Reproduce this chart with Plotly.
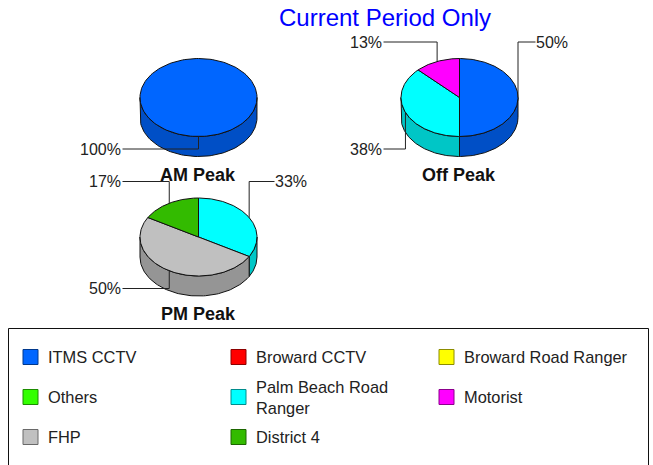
import numpy as np
import plotly.graph_objects as go

# ---- data ----
title = "Current Period Only"
series_names = ["ITMS CCTV", "Broward CCTV", "Broward Road Ranger", "Others",
                "Palm Beach Road<br>Ranger", "Motorist", "FHP", "District 4"]
series_colors = ["#0066FF", "#FF0000", "#FFFF00", "#33FF00",
                 "#00FFFF", "#FF00FF", "#C0C0C0", "#33BB00"]
am_names = ["ITMS CCTV"]
am_values = [1]
off_names = ["ITMS CCTV", "Palm Beach Road<br>Ranger", "Motorist"]
off_values = [4, 3, 1]
pm_names = ["Palm Beach Road<br>Ranger", "FHP", "District 4"]
pm_values = [2, 3, 1]

# ---- layout constants ----
W, H = 653, 465
RX, RY, DEPTH = 58.5, 39.0, 20.0
LINE = "#111111"
color_of = dict(zip(series_names, series_colors))


def darken(hex_color, f):
    r, g, b = (int(hex_color[i:i + 2], 16) for i in (1, 3, 5))
    return f"rgb({int(r * f)},{int(g * f)},{int(b * f)})"


fig = go.Figure()
annotations = []


def poly(xs, ys, fill=None, width=1.0, color=LINE):
    fig.add_trace(go.Scatter(
        x=xs, y=ys, mode="lines", line=dict(color=color, width=width),
        fill="toself" if fill else "none", fillcolor=fill,
        hoverinfo="skip", showlegend=False))


def text(x, y, s, size=16, color="#222222", anchor="center", bold=False):
    annotations.append(dict(
        x=x, y=y, text=f"<b>{s}</b>" if bold else s, showarrow=False,
        xanchor=anchor, yanchor="middle", xref="x", yref="y",
        xshift=0, yshift=0, align="left",
        font=dict(family="Liberation Sans, Arial", size=size, color=color)))


def pie3d(cx, cy, names, values, label):
    total = sum(values)
    edges = np.cumsum([0] + list(values)) / total * 2 * np.pi

    def px(t):
        return cx + RX * np.sin(t)

    def py(t):
        return cy - RY * np.cos(t)

    # side walls: only the front half (90..270 degrees) is visible
    for i, name in enumerate(names):
        a0 = max(edges[i], np.pi / 2)
        a1 = min(edges[i + 1], 3 * np.pi / 2)
        if a1 <= a0:
            continue
        t = np.linspace(a0, a1, 80)
        xs = np.r_[px(t), px(t[::-1]), px(t[0])]
        ys = np.r_[py(t), py(t[::-1]) + DEPTH, py(t[0])]
        poly(xs, ys, fill=darken(color_of[name], 0.78))

    # top faces
    for i, name in enumerate(names):
        t = np.linspace(edges[i], edges[i + 1], 160)
        if len(values) == 1:
            xs, ys = px(t), py(t)
        else:
            xs = np.r_[cx, px(t), cx]
            ys = np.r_[cy, py(t), cy]
        poly(xs, ys, fill=color_of[name])

    # leader lines + percentage labels
    for i, name in enumerate(names):
        mid = (edges[i] + edges[i + 1]) / 2
        mx, my = px(mid), py(mid)
        pct = int(values[i] / total * 100 + 0.5)
        lower = np.cos(mid) < -1e-9
        ey = cy + 51.5 if lower else cy - 55.5
        right = np.sin(mid) > 1e-9
        ex = cx + 76 if right else cx - 76
        poly([mx, mx, ex], [my, ey, ey], width=1.0, color="#222222")
        if right:
            text(ex - 2, ey, f"{pct}%", anchor="left")
        else:
            text(ex + 0.5, ey, f"{pct}%", anchor="right")

    text(cx - 0.5, cy + 77, label, size=18, color="#111111", bold=True)


pie3d(198.5, 97.5, am_names, am_values, "AM Peak")
pie3d(459.5, 97.5, off_names, off_values, "Off Peak")
pie3d(198.5, 237.0, pm_names, pm_values, "PM Peak")

text(385, 17.5, title, size=24, color="#0000FF")

# legend
col_x = [30.5, 238.5, 446.5]
row_y = [357, 397, 437]
for k, (name, col) in enumerate(zip(series_names, series_colors)):
    x, y = col_x[k % 3], row_y[k // 3]
    fig.add_trace(go.Scatter(
        x=[x], y=[y], mode="markers",
        marker=dict(symbol="square", size=15, color=col,
                    line=dict(color=darken(col, 0.55), width=1)),
        hoverinfo="skip", showlegend=False))
    text(x + 15.5, y, name, size=16.4, anchor="left")

fig.update_layout(
    width=W, height=H, margin=dict(l=0, r=0, t=0, b=0, pad=0),
    paper_bgcolor="white", plot_bgcolor="white", showlegend=False,
    xaxis=dict(range=[0, W], visible=False, fixedrange=True),
    yaxis=dict(range=[H, 0], visible=False, fixedrange=True),
    annotations=annotations,
    shapes=[dict(type="rect", xref="x", yref="y", x0=8.5, x1=648.5, y0=328.5, y1=475,
                 line=dict(color="#111111", width=1), fillcolor="rgba(0,0,0,0)", layer="below")],
)
fig.write_html("out.html", config={"displayModeBar": False},
               post_script="document.body.style.margin='0';document.body.style.overflow='hidden';")
